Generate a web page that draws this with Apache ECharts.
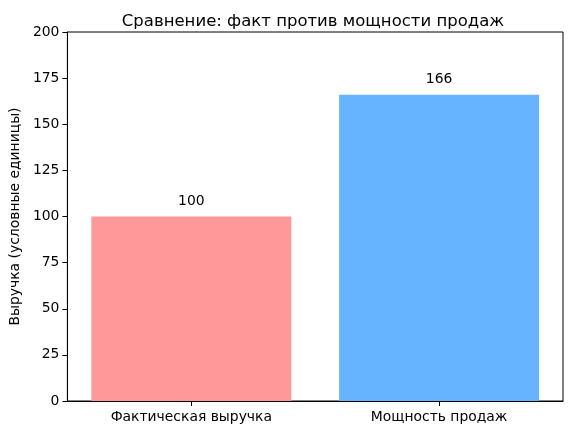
<!DOCTYPE html>
<html>
<head>
<meta charset="utf-8">
<script src="https://cdn.jsdelivr.net/npm/echarts@6/dist/echarts.min.js"></script>
<style>html,body{margin:0;padding:0;background:#fff;}#c{width:571px;height:435px;}</style>
</head>
<body>
<div id="c"></div>
<script>
const categories = ["Фактическая выручка", "Мощность продаж"];
const values = [100, 166];
const barColors = ["#ff9999", "#66b3ff"];
const yTicks = {min: 0, max: 200, interval: 25};

const chart = echarts.init(document.getElementById('c'), null, {renderer: 'canvas'});
const font = 'DejaVu Sans';
chart.setOption({
  animation: false,
  backgroundColor: '#fff',
  title: {
    text: 'Сравнение: факт против мощности продаж',
    left: 308, top: 8, textAlign: 'center',
    textStyle: {fontFamily: font, fontSize: 16.5, fontWeight: 'normal', color: '#000'}
  },
  grid: {left: 66, right: 8, top: 32, bottom: 34, show: true, borderColor: '#000', borderWidth: 1},
  xAxis: {
    type: 'category',
    data: categories,
    axisLine: {show: true, lineStyle: {color: '#000'}},
    axisTick: {show: true, alignWithLabel: true, length: 5, lineStyle: {color: '#000'}},
    axisLabel: {fontFamily: font, fontSize: 13.9, color: '#000', margin: 9},
    splitLine: {show: false}
  },
  yAxis: {
    type: 'value',
    min: yTicks.min, max: yTicks.max, interval: yTicks.interval,
    name: 'Выручка (условные единицы)',
    nameLocation: 'middle', nameGap: 43,
    nameTextStyle: {fontFamily: font, fontSize: 13.9, color: '#000'},
    axisLine: {show: true, lineStyle: {color: '#000'}},
    axisTick: {show: true, length: 5, lineStyle: {color: '#000'}},
    axisLabel: {fontFamily: font, fontSize: 13.9, color: '#000', margin: 8},
    splitLine: {show: false}
  },
  series: [{
    type: 'bar',
    data: values.map((v, i) => ({value: v, itemStyle: {color: barColors[i]}})),
    barWidth: 200,
    label: {show: true, position: 'top', distance: 8, fontFamily: font, fontSize: 13.9, color: '#000'}
  }]
});
</script>
</body>
</html>
